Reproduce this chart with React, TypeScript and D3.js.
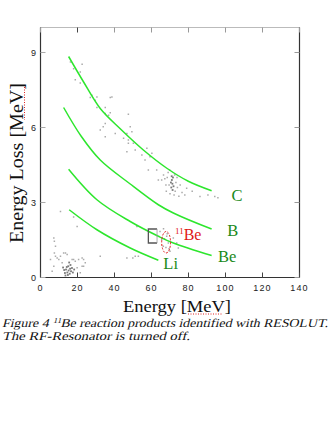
import React from "react";
import * as d3 from "d3";

// ---- data (Energy [MeV], Energy Loss [MeV]) ----
const xTicks = [0, 20, 40, 60, 80, 100, 120, 140];
const yTicks = [0, 3, 6, 9];

const curveC: [number, number][] = [
  [15.2, 8.84], [23.3, 7.82], [32.3, 6.76], [43.1, 5.95], [55.6, 5.1], [68.3, 4.37], [79.9, 3.85], [92.5, 3.47],
];
const curveB: [number, number][] = [
  [12.5, 6.8], [22, 5.65], [32.3, 4.7], [48.5, 3.74], [63.7, 2.91], [71.8, 2.58], [92.5, 1.94],
];
const curveBe: [number, number][] = [
  [15.2, 4.33], [30.5, 3.11], [48.5, 2.24], [63.7, 1.65], [71.8, 1.38], [92.5, 0.88],
];
const curveLi: [number, number][] = [
  [15.5, 2.71], [30.5, 1.91], [48.5, 1.18], [63.7, 0.69],
];

const curveLabels = ["C", "B", "Be", "Li"];
const labelE = [103.2, 100.9, 96.0, 66.4];
const labelV = [3.08, 1.65, 0.61, 0.35];

const scatterLight: [number, number][] = [
  [16.2, 8.62], [17.9, 8.35], [22.5, 8.53], [21.5, 8.22], [18.8, 7.91], [21.5, 7.78], [27.8, 7.29], [30.5, 7.22],
  [29.6, 7.09], [37.7, 7.2], [35.0, 6.8], [30.5, 6.8], [26.9, 7.2], [38.6, 7.22], [35.0, 6.56], [36.8, 6.49],
  [37.7, 6.59], [47.5, 6.53], [35.0, 6.16], [33.9, 6.03], [48.5, 6.03], [46.7, 5.76], [49.4, 5.83], [40.4, 5.76],
  [44.9, 5.57], [47.5, 5.5], [50.2, 5.37], [46.7, 5.03], [51.2, 5.1], [54.8, 4.9], [56.5, 4.7], [59.2, 4.83],
  [60.2, 4.97], [58.3, 4.3], [62.8, 4.3], [63.7, 3.9], [32.3, 5.9], [35.0, 5.63], [47.5, 5.37], [57.5, 5.17],
  [79.0, 3.57], [86.2, 3.24], [94.2, 3.24], [95.9, 3.19], [90.5, 3.3], [82.0, 3.45], [78.0, 3.3],
  [68.5, 4.0], [69.5, 3.7], [72.5, 4.1], [73.2, 3.8], [67.8, 3.7], [74.0, 3.6], [69.0, 4.2], [72.8, 3.45],
  [66.5, 4.1], [75.5, 3.7], [70.0, 3.35], [68.0, 3.45], [73.8, 4.0], [76.5, 3.4], [65.5, 3.9], [69.8, 4.3],
  [74.8, 3.25], [67.2, 3.95], [72.2, 3.3],
  [7.2, 1.58], [7.5, 1.45], [8.1, 1.25], [8.1, 0.85], [5.4, 0.72], [7.2, 0.45], [6.3, 0.25], [9.9, 0.72],
  [10.8, 0.85], [11.7, 0.59], [13.5, 0.98], [17.1, 0.72], [18.8, 0.65], [20.6, 0.72], [22.5, 0.78], [23.3, 0.45],
  [19.8, 0.39], [21.5, 0.19], [24.2, 0.59], [32.3, 0.85], [17.9, 2.42], [19.8, 2.04], [10.8, 2.64], [7.5, 0.98],
  [9.0, 0.78], [12.5, 0.98], [14.4, 0.92], [17.9, 0.72], [23.3, 0.72], [22.5, 0.45],
  [64.6, 1.84], [65.5, 1.51], [66.4, 1.25], [68.2, 1.65], [69.1, 1.38], [71.8, 1.58], [73.6, 1.38], [74.5, 1.18],
  [70.0, 1.05], [51.2, 0.85], [52.9, 0.85], [49.9, 0.78], [46.7, 0.78], [52.1, 2.04], [67.0, 1.55], [67.8, 1.2],
  [68.5, 1.75], [66.5, 1.95], [69.5, 1.15],
];
const scatterDark: [number, number][] = [
  [71.0, 3.9], [71.3, 3.75], [70.7, 3.6], [71.6, 4.0], [70.5, 3.8], [71.9, 3.65], [70.9, 4.05], [71.4, 3.5],
  [15.2, 0.28], [14.5, 0.2], [16.0, 0.35], [13.8, 0.32], [15.8, 0.15], [14.2, 0.42], [16.5, 0.25], [13.2, 0.18],
  [15.0, 0.45], [17.0, 0.38], [12.8, 0.3], [16.2, 0.5], [14.8, 0.1], [17.5, 0.2], [13.5, 0.08], [15.5, 0.6],
  [18.2, 0.32], [12.2, 0.4],
];

const gateBox = [58.3, 63.0, 1.38, 1.94]; // E0, E1, V0, V1
const be11Ellipse = [67.9, 1.41, 2.4, 0.43]; // E, V, dE, dV
const be11Label = [72.7, 1.51];

const W = 336;
const H = 423;
const ml = 40.5, mr = 299.5, mt = 27.5, mb = 277.5;

export default function App() {
  const x = d3.scaleLinear().domain([0, 140]).range([ml, mr]);
  const y = d3.scaleLinear().domain([0, 10]).range([mb, mt]);
  const line = d3
    .line<[number, number]>()
    .x((d) => x(d[0]))
    .y((d) => y(d[1]))
    .curve(d3.curveCatmullRom.alpha(0.5));
  const curves = [curveC, curveB, curveBe, curveLi];
  const green = "#2de62d";
  const dgreen = "#1a8a1a";
  const serif = "Liberation Serif";
  const sans = "Liberation Sans";

  return (
    <svg
      width={W}
      height={H}
      style={{ position: "absolute", left: 0, top: 0, background: "#fff" }}
    >
      <rect x={0} y={0} width={W} height={H} fill="#fff" />
      {/* scatter */}
      {scatterLight.map((d, i) => (
        <rect key={"l" + i} x={x(d[0]) - 0.75} y={y(d[1]) - 0.75} width={1.5} height={1.5} fill="#ababab" />
      ))}
      {scatterDark.map((d, i) => (
        <rect key={"d" + i} x={x(d[0]) - 0.9} y={y(d[1]) - 0.9} width={1.8} height={1.8} fill="#7a7a7a" />
      ))}
      {/* curves */}
      {curves.map((c, i) => (
        <path key={"c" + i} d={line(c) || ""} fill="none" stroke={green} strokeWidth={1.5} />
      ))}
      {/* frame */}
      <line x1={ml} x2={mr} y1={mt} y2={mt} stroke="#bbb" strokeWidth={1} />
      <line x1={ml} x2={ml} y1={mt} y2={mb} stroke="#333" strokeWidth={1.2} />
      <line x1={mr} x2={mr} y1={mt} y2={mb} stroke="#333" strokeWidth={1.2} />
      <line x1={ml} x2={mr} y1={mb} y2={mb} stroke="#333" strokeWidth={1.2} />
      {/* x ticks */}
      {xTicks.map((t) => (
        <g key={"xt" + t}>
          <line x1={x(t)} x2={x(t)} y1={mb} y2={mb - 5} stroke="#444" strokeWidth={1} />
          <line x1={x(t)} x2={x(t)} y1={mt} y2={mt + 5} stroke={t === 20 ? "#444" : "#999"} strokeWidth={1} />
          <text x={x(t)} y={291} fontFamily={sans} fontSize={9} textAnchor="middle" letterSpacing={1.1} fill="#222">
            {t}
          </text>
        </g>
      ))}
      {/* y ticks */}
      {yTicks.map((t) => (
        <g key={"yt" + t}>
          <line x1={ml} x2={ml + 5} y1={y(t)} y2={y(t)} stroke="#aaa" strokeWidth={1} />
          <line x1={mr} x2={mr - 5} y1={y(t)} y2={y(t)} stroke="#999" strokeWidth={1} />
          <text x={36} y={y(t) + 3.2} fontFamily={sans} fontSize={9} textAnchor="end" fill="#222">
            {t}
          </text>
        </g>
      ))}
      {/* gate box */}
      <path
        d={`M${x(gateBox[1])},${y(gateBox[3])} L${x(gateBox[0])},${y(gateBox[3])} L${x(gateBox[0])},${y(gateBox[2])} L${x(gateBox[1])},${y(gateBox[2])}`}
        fill="none"
        stroke="#555"
        strokeWidth={1.3}
      />
      <line x1={x(gateBox[1])} x2={x(gateBox[1])} y1={y(gateBox[3])} y2={y(gateBox[2])} stroke="#999" strokeWidth={0.8} />
      {/* 11Be ellipse */}
      <ellipse
        cx={x(be11Ellipse[0])}
        cy={y(be11Ellipse[1])}
        rx={x(be11Ellipse[0] + be11Ellipse[2]) - x(be11Ellipse[0])}
        ry={y(be11Ellipse[1]) - y(be11Ellipse[1] + be11Ellipse[3])}
        fill="none"
        stroke="#e01818"
        strokeWidth={1}
        strokeDasharray="2,1.5"
      />
      <text x={x(be11Label[0])} y={y(be11Label[1])} fontFamily={serif} fontSize={16} fill="#e01818">
        <tspan fontSize={9} dy={-6}>11</tspan>
        <tspan dy={6}>Be</tspan>
      </text>
      {/* curve labels */}
      {curveLabels.map((l, i) => (
        <text key={l} x={x(labelE[i])} y={y(labelV[i])} fontFamily={serif} fontSize={16.5} fill={dgreen}>
          {l}
        </text>
      ))}
      {/* axis titles */}
      <text
        x={177}
        y={312}
        fontFamily={serif}
        fontSize={17.5}
        textAnchor="middle"
        textLength={108}
        lengthAdjust="spacingAndGlyphs"
        fill="#111"
      >
        Energy [MeV]
      </text>
      <line x1={188} x2={221.5} y1={314} y2={314} stroke="#e02020" strokeWidth={1} strokeDasharray="1,1.5" />
      <text
        transform="translate(23,163) rotate(-90)"
        fontFamily={serif}
        fontSize={18.5}
        textAnchor="middle"
        textLength={160}
        lengthAdjust="spacingAndGlyphs"
        fill="#111"
      >
        Energy Loss [MeV]
      </text>
      <line x1={24.5} x2={24.5} y1={87} y2={120} stroke="#e02020" strokeWidth={1} strokeDasharray="1,1.5" />
      {/* caption (serif glyphs slanted) */}
      <text
        transform="translate(2,326.5) skewX(-14)"
        fontFamily={serif}
        fontSize={12}
        textLength={326}
        lengthAdjust="spacingAndGlyphs"
        fill="#111"
      >
        <tspan>Figure 4 </tspan>
        <tspan fontSize={7.5} dy={-4}>11</tspan>
        <tspan dy={4}>Be reaction products identified with RESOLUT.</tspan>
      </text>
      <text
        transform="translate(2,340) skewX(-14)"
        fontFamily={serif}
        fontSize={12}
        textLength={188}
        lengthAdjust="spacingAndGlyphs"
        fill="#111"
      >
        The RF-Resonator is turned off.
      </text>
    </svg>
  );
}
